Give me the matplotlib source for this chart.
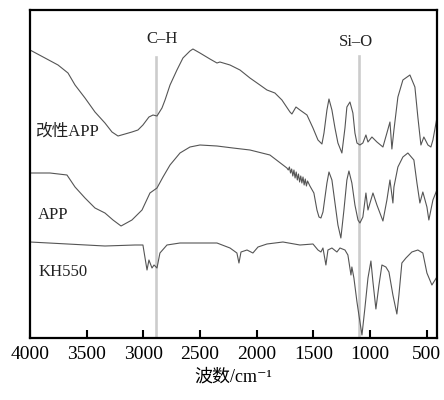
import matplotlib
matplotlib.use("Agg")
import matplotlib.pyplot as plt

plt.rcParams['font.family'] = ['Liberation Serif', 'Noto Sans CJK SC', 'DejaVu Sans']

# 改性APP
wn_mod = [4000, 3868, 3753, 3665, 3603, 3515, 3427, 3339, 3277, 3224, 3162, 3101, 3048, 3004,
          2951, 2915, 2880, 2836, 2809, 2765, 2704, 2651, 2589, 2563, 2501, 2413, 2351, 2325,
          2236, 2148, 2060, 1972, 1910, 1840, 1778, 1707, 1690, 1654, 1619, 1557, 1504, 1460,
          1425, 1407, 1381, 1363, 1337, 1310, 1284, 1249, 1222, 1205, 1178, 1152, 1134, 1116,
          1090, 1064, 1037, 1019, 984, 940, 887, 852, 825, 808, 790, 755, 711, 649, 605, 579,
          552, 526, 490, 464, 446, 411]
t_mod = [288, 280, 273, 265, 253, 240, 226, 215, 206, 202, 204, 206, 208, 213,
         221, 223, 222, 230, 238, 253, 268, 280, 287, 289, 285, 279, 275, 276,
         273, 268, 260, 253, 248, 245, 238, 226, 224, 231, 228, 223, 210, 198,
         194, 205, 228, 239, 228, 210, 195, 185, 210, 231, 236, 225, 205, 195,
         193, 195, 203, 196, 201, 196, 191, 205, 216, 189, 208, 241, 258, 263, 251, 221,
         193, 201, 193, 191, 198, 220]

# APP
wn_app = [4000, 3824, 3674, 3603, 3515, 3427, 3339, 3268, 3197, 3101, 3012, 2942, 2880, 2827,
          2765, 2677, 2589, 2501, 2351, 2210, 2060, 1884, 1734, 1722, 1712, 1702, 1692, 1682,
          1672, 1662, 1652, 1642, 1632, 1622, 1612, 1602, 1592, 1582, 1572, 1562, 1552, 1531,
          1496, 1469, 1451, 1434, 1416, 1381,
          1363, 1337, 1310, 1284, 1258, 1231, 1205, 1187, 1161, 1134, 1107, 1090, 1064, 1037,
          1019, 975, 940, 887, 852, 825, 799, 790, 755, 711, 667, 614, 587, 561, 535, 499,
          482, 446, 411]
t_app = [165, 165, 163, 151, 140, 130, 125, 118, 112, 118, 128, 145, 150, 161,
         173, 185, 191, 193, 192, 190, 188, 183, 170, 168, 171, 165, 169, 162,
         168, 160, 166, 158, 164, 156, 162, 155, 161, 153, 159, 152, 157, 152,
         145, 128, 121, 120, 126, 155,
         166, 158, 135, 113, 100, 128, 158, 167, 155, 133, 118, 115, 121, 145,
         128, 145, 133, 117, 138, 158, 135, 151, 171, 181, 185, 178, 155, 135, 146, 131,
         118, 138, 148]

# KH550
wn_kh = [4000, 3339, 3074, 3004, 2968, 2951, 2924, 2906, 2880, 2854, 2792, 2677, 2351, 2236,
         2175, 2157, 2139, 2086, 2034, 1989, 1910, 1769, 1619, 1504, 1460, 1434, 1416, 1390,
         1372, 1337, 1293, 1266, 1222, 1196, 1169, 1161, 1143, 1116, 1099, 1072, 1046, 1019,
         993, 975, 949, 922, 896, 861, 834, 799, 764, 746, 720, 684, 632, 579, 535, 499, 455, 411]
t_kh = [96, 92, 93, 93, 68, 78, 70, 73, 70, 85, 93, 95, 95, 90,
        85, 75, 86, 88, 85, 91, 94, 96, 93, 94, 88, 86, 90, 73,
        88, 90, 86, 90, 88, 83, 63, 71, 60, 36, 23, 3, 30, 60,
        77, 56, 29, 53, 73, 71, 66, 43, 24, 43, 75, 80, 86, 88, 85, 65, 53, 61]

series_labels = ['改性APP', 'APP', 'KH550']
label_pos = [(3956, 206), (3929, 123), (3929, 66)]

marker_wn = [2886, 1099]
marker_top = [281, 282]
marker_labels = ['C–H', 'Si–O']
marker_label_pos = [(2836, 299), (1125, 296)]

fig = plt.figure(figsize=(4.44, 4.0), dpi=100)
ax = fig.add_axes([0.0676, 0.155, 0.9164, 0.82])

for w, top in zip(marker_wn, marker_top):
    ax.plot([w, w], [0, top], color='#cccccc', lw=1.9, zorder=1)

line_color = '#555555'
for xs, ys in [(wn_mod, t_mod), (wn_app, t_app), (wn_kh, t_kh)]:
    ax.plot(xs, ys, color=line_color, lw=0.8, zorder=2)

for lab, (x, y) in zip(series_labels, label_pos):
    ax.text(x, y, lab, fontsize=12, ha='left', va='center', color='#222222')

for lab, (x, y) in zip(marker_labels, marker_label_pos):
    ax.text(x, y, lab, fontsize=12, ha='center', va='center', color='#222222')

ax.set_xlim(4000, 411)
ax.set_ylim(0, 328)
ax.set_xticks([4000, 3500, 3000, 2500, 2000, 1500, 1000, 500])
ax.set_yticks([])
ax.tick_params(axis='x', direction='in', length=6, width=1.5, labelsize=14, pad=6)
for s in ax.spines.values():
    s.set_linewidth(1.6)
ax.set_xlabel('波数/cm⁻¹', fontsize=13, labelpad=4)

fig.savefig('out.png', dpi=100)
